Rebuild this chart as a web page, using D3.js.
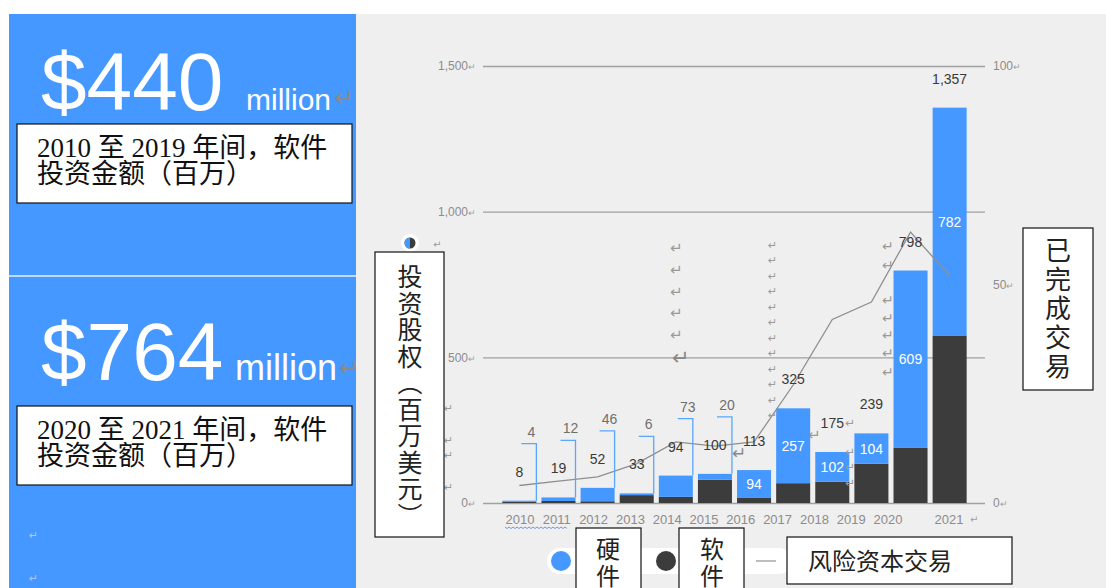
<!DOCTYPE html>
<html>
<head>
<meta charset="utf-8">
<script src="https://cdn.jsdelivr.net/npm/d3@7"></script>
<style>
body { margin: 0; background: #fff; }
svg { display: block; font-family: "Liberation Sans", Arial, sans-serif; }
</style>
</head>
<body>
<svg id="chart" width="1106" height="588"></svg>
<script>
// values
var years = [2010, 2011, 2012, 2013, 2014, 2015, 2016, 2017, 2018, 2019, 2020, 2021];
var hardware = [4, 12, 46, 6, 73, 20, 94, 257, 102, 104, 609, 782];
var software = [4, 7, 6, 27, 21, 80, 19, 68, 73, 135, 189, 575];
var deals = [4, 5, 6, 9, 14, 13, 14, 27, 42, 46, 62, 52];
var leftTicks = [0, 500, 1000, 1500];
var rightTicks = [0, 50, 100];
var summaryAmounts = ['$440', '$764'];
var summaryNotes = [
    ['2010 至 2019 年间，软件', '投资金额（百万）'],
    ['2020 至 2021 年间，软件', '投资金额（百万）']
];
var leftTitle = '投资股权（百万美元）';
var rightTitle = '已完成交易';
var legendNames = ['硬件', '软件', '风险资本交易'];

var BLUE = '#4598ff', DARK = '#3c3c3c', GREY = '#8c8c8c';
var CJK = '"Noto Sans CJK SC", sans-serif';
var svg = d3.select('#chart');

// backgrounds
svg.append('rect').attr('x', 356).attr('y', 14).attr('width', 750).attr('height', 574).attr('fill', '#efefef');
svg.append('rect').attr('x', 9).attr('y', 14).attr('width', 347).attr('height', 574).attr('fill', BLUE);
svg.append('line').attr('x1', 9).attr('x2', 356).attr('y1', 276).attr('y2', 276)
    .attr('stroke', '#e8f1ff').attr('stroke-width', 1.5);

// small paragraph mark helper
function para(px, py, size, color) {
    svg.append('text').attr('x', px).attr('y', py)
        .attr('dominant-baseline', 'central')
        .attr('font-family', '"DejaVu Sans", sans-serif')
        .attr('font-size', size).attr('fill', color || '#9a9a9a')
        .text('↵');
}

// left panel: two summary blocks
var blockTop = [0, 270];
summaryAmounts.forEach(function(amount, i) {
    var base = blockTop[i] + 110;
    svg.append('text').attr('x', 41).attr('y', base)
        .attr('font-size', 82).attr('fill', '#fff').text(amount);
    var mx = i === 0 ? 246 : 235;
    var ms = i === 0 ? 30 : 36;
    svg.append('text').attr('x', mx).attr('y', base)
        .attr('font-size', ms).attr('fill', '#fff').text('million');
    para(mx + (i === 0 ? 88 : 104), base - 12, 24, '#8a8a8a');

    var boxY = i === 0 ? 124 : 406;
    svg.append('rect').attr('x', 17).attr('y', boxY).attr('width', 335).attr('height', 79)
        .attr('fill', '#fff').attr('stroke', '#111').attr('stroke-width', 1.2);
    svg.append('text')
        .attr('font-family', '"Liberation Serif", ' + CJK)
        .attr('font-size', 27).attr('fill', '#111')
        .selectAll('tspan')
        .data(summaryNotes[i])
        .join('tspan')
        .attr('x', 37)
        .attr('y', function(d, j) { return boxY + 33 + j * 26; })
        .text(function(d) { return d; });
});
para(29, 535, 11, '#a8c8f8');
para(29, 578, 11, '#a8c8f8');

// scales
var y = d3.scaleLinear().domain([0, 1500]).range([503, 66]);
var yR = d3.scaleLinear().domain([0, 100]).range([503, 66]);
var x = d3.scaleBand().domain(years).range([500, 969]).paddingInner(0.13).paddingOuter(0.06);
var xLab = d3.scaleLinear().domain([2010, 2020, 2021]).range([520, 888, 949]);

// left axis with gridlines
var gL = svg.append('g').attr('transform', 'translate(483,0)')
    .call(d3.axisLeft(y).tickValues(leftTicks).tickSize(-502).tickPadding(7).tickFormat(d3.format(',')))
    .attr('font-size', 12).attr('font-family', '"Liberation Sans", Arial, sans-serif');
gL.select('.domain').remove();
gL.selectAll('.tick line').attr('stroke', '#a0a0a0').attr('stroke-width', 1.3);
gL.selectAll('.tick text').attr('fill', GREY)
    .append('tspan').attr('font-size', 9).attr('fill', '#a0a0a0').text('↵');

// right axis
var gR = svg.append('g').attr('transform', 'translate(985,0)')
    .call(d3.axisRight(yR).tickValues(rightTicks).tickSize(0).tickPadding(8))
    .attr('font-size', 12).attr('font-family', '"Liberation Sans", Arial, sans-serif');
gR.select('.domain').remove();
gR.selectAll('.tick text').attr('fill', GREY)
    .append('tspan').attr('font-size', 9).attr('fill', '#a0a0a0').text('↵');

// stacked bars
var rows = years.map(function(yr, i) {
    return {year: yr, software: software[i], hardware: hardware[i], deals: deals[i]};
});
var series = d3.stack().keys(['software', 'hardware'])(rows);
var colors = {software: DARK, hardware: BLUE};

svg.append('g').selectAll('g')
    .data(series)
    .join('g')
    .attr('fill', function(d) { return colors[d.key]; })
    .selectAll('rect')
    .data(function(d) { return d; })
    .join('rect')
    .attr('x', function(d) { return x(d.data.year); })
    .attr('width', x.bandwidth())
    .attr('y', function(d) { return y(d[1]); })
    .attr('height', function(d) { return y(d[0]) - y(d[1]); });

// deals line
var line = d3.line()
    .x(function(d) { return x(d.year) + x.bandwidth() / 2; })
    .y(function(d) { return yR(d.deals); });
svg.append('path').datum(rows)
    .attr('d', line)
    .attr('fill', 'none').attr('stroke', '#8f8f8f').attr('stroke-width', 1.3);

// year labels
svg.append('g').selectAll('text')
    .data(years)
    .join('text')
    .attr('x', function(d) { return xLab(d); })
    .attr('y', 524)
    .attr('text-anchor', 'middle')
    .attr('font-size', 13).attr('fill', GREY)
    .text(function(d) { return d; });
para(970, 519, 10, '#a0a0a0');
// spell-check squiggle under the first labels
var squig = d3.range(0, 64, 2).map(function(i) { return [505 + i, 527 + (i % 4 === 0 ? 0 : 1.5)]; });
svg.append('path').attr('d', d3.line()(squig)).attr('fill', 'none').attr('stroke', '#5b7fd6').attr('stroke-width', 0.8);

// total labels above bars
var total = function(d) { return d.software + d.hardware; };
svg.append('g').selectAll('text')
    .data(rows)
    .join('text')
    .attr('x', function(d) { return x(d.year) + x.bandwidth() / 2; })
    .attr('y', function(d) { return y(total(d)) - 24; })
    .attr('text-anchor', 'middle')
    .attr('font-size', 14).attr('fill', '#3a3a3a')
    .text(function(d) { return d3.format(',')(total(d)); });

// hardware labels: callouts for small years, inside for the rest
var small = rows.filter(function(d) { return d.year < 2016; });
var big = rows.filter(function(d) { return d.year >= 2016; });

svg.append('g').selectAll('path')
    .data(small)
    .join('path')
    .attr('d', function(d) {
        var xr = x(d.year) + x.bandwidth();
        var yb = y(total(d)) - 57;
        return 'M' + (xr - 15) + ',' + yb + 'H' + xr + 'V' + y(total(d));
    })
    .attr('fill', 'none').attr('stroke', '#5aa6ff').attr('stroke-width', 1.3);

svg.append('g').selectAll('text')
    .data(small)
    .join('text')
    .attr('x', function(d) { return x(d.year) + x.bandwidth() - 5; })
    .attr('y', function(d) { return y(total(d)) - 64; })
    .attr('text-anchor', 'middle')
    .attr('font-size', 14).attr('fill', '#6f6f6f')
    .text(function(d) { return d.hardware; });

svg.append('g').selectAll('text')
    .data(big)
    .join('text')
    .attr('x', function(d) { return x(d.year) + x.bandwidth() / 2; })
    .attr('y', function(d) { return (y(d.software) + y(total(d))) / 2 + 5; })
    .attr('text-anchor', 'middle')
    .attr('font-size', 14).attr('fill', '#fff')
    .text(function(d) { return d.hardware; });

// stray paragraph marks in the chart area
[248, 270, 292, 313, 335].forEach(function(py) { para(670, py, 15); });
para(672, 358, 21, '#8a8a8a');
d3.range(245, 430, 15.5).forEach(function(py) { para(768, py, 11); });
[246, 265, 300, 318, 335, 353, 372].forEach(function(py) { para(882, py, 14); });
[408, 440, 455, 487].forEach(function(py) { para(444, py, 11); });
[423, 452, 467, 483].forEach(function(py) { para(845, py, 12); });
para(808, 435, 15);
para(732, 453, 17, '#888');
para(433, 244, 10);

// vertical text box helper: one vertical-rl text per box
function verticalBox(bx, by, bw, bh, text, cx, top, step, size) {
    svg.append('rect').attr('x', bx).attr('y', by).attr('width', bw).attr('height', bh)
        .attr('fill', '#fff').attr('stroke', '#111').attr('stroke-width', 1.2);
    svg.append('text')
        .attr('x', cx).attr('y', top)
        .style('writing-mode', 'vertical-rl')
        .style('letter-spacing', (step - size) + 'px')
        .attr('font-family', CJK).attr('font-size', size).attr('fill', '#222')
        .text(text);
}

// icon above the left title
svg.append('circle').attr('cx', 410).attr('cy', 243).attr('r', 9).attr('fill', '#fff');
svg.append('circle').attr('cx', 410).attr('cy', 243).attr('r', 5.5).attr('fill', DARK);
svg.append('path').attr('d', 'M410,237.5A5.5,5.5 0 0 0 410,248.5Z').attr('fill', BLUE);

verticalBox(375, 252, 69, 285, leftTitle, 410, 264, 26.5, 25);
verticalBox(1023, 228, 70, 162, rightTitle, 1058, 237, 29, 26);

// legend
svg.append('rect').attr('x', 547).attr('y', 548).attr('width', 245).attr('height', 26)
    .attr('rx', 13).attr('fill', '#fff');
svg.append('circle').attr('cx', 561).attr('cy', 561).attr('r', 10).attr('fill', BLUE);
svg.append('circle').attr('cx', 666).attr('cy', 561).attr('r', 10).attr('fill', DARK);
svg.append('line').attr('x1', 756).attr('x2', 776).attr('y1', 561).attr('y2', 561)
    .attr('stroke', '#9a9a9a').attr('stroke-width', 1.3);
verticalBox(576, 528, 65, 70, legendNames[0], 608, 537, 27, 24);
verticalBox(679, 528, 65, 70, legendNames[1], 712, 537, 27, 24);
svg.append('rect').attr('x', 787).attr('y', 537).attr('width', 225).attr('height', 47)
    .attr('fill', '#fff').attr('stroke', '#111').attr('stroke-width', 1.2);
svg.append('text').attr('x', 808).attr('y', 570)
    .attr('font-family', CJK).attr('font-size', 24).attr('fill', '#222')
    .text(legendNames[2]);
</script>
</body>
</html>
